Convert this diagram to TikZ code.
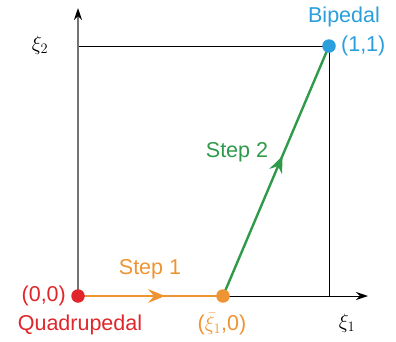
\documentclass[tikz,border=0pt]{standalone}
\usepackage{amsmath}
\usepackage{fontspec}
\setmainfont{Liberation Sans}
\usetikzlibrary{arrows.meta,positioning,calc,decorations.markings}
\definecolor{quadred}{HTML}{E0262B}
\definecolor{steporange}{HTML}{EF9432}
\definecolor{stepgreen}{HTML}{2F9A4A}
\definecolor{bipblue}{HTML}{2A9FDB}
\tikzset{
  % akser og ramme
  ax/.style={draw=black!55,line width=1.8pt},
  axtip/.style={-{Stealth[length=12pt,width=8pt,color=black]}},
  frame/.style={draw=black,line width=1pt},
  % tilstande
  pt/.style={circle,inner sep=0pt,minimum size=13.5pt},
  lbl/.style={font=\fontsize{21.5}{24}\selectfont,inner sep=1pt},
  axl/.style={font=\fontsize{22}{24}\selectfont,inner sep=1pt},
  % trinn
  steppath/.style={line width=2.4pt,postaction={decorate},
    decoration={markings,mark=at position #1 with
      {\arrow{Stealth[length=17pt,width=14pt,inset=6pt,line width=0pt]}}}},
}

\begin{document}
\begin{tikzpicture}[x=1pt,y=1pt]
  \useasboundingbox (0,0) rectangle (396,341);
  \coordinate (xend) at (368,45);
  \coordinate (yend) at (78,333);
  \coordinate (o) at (78,45);
  \coordinate (s) at (223,45);
  \coordinate (p) at (329,295);
  \draw[frame] (78,295) -- (p) -- (329,45);
  \draw[frame,axtip] (s) -- (xend);
  \draw[ax,axtip] (o) -- (yend);
  \node[axl] (xi2) at (40,296) {$\xi_2$};
  \node[axl] (xi1) at (347,18) {$\xi_1$};
  \draw[steppath=0.6,steporange] (o) -- (s);
  \draw[steppath=0.56,stepgreen] (s) -- (p);
  \node[pt,fill=quadred] (odot) at (o) {};
  \node[pt,fill=steporange] (sdot) at (s) {};
  \node[pt,fill=bipblue] (pdot) at (p) {};
  \node[lbl,text=quadred,left=4pt of odot] (ol) {(0,0)};
  \node[lbl,text=quadred] (quad) at (80,16) {Quadrupedal};
  \node[lbl,text=steporange] (st1) at (150,72) {Step 1};
  \node[lbl,text=steporange] (sl) at (222,17) {($\bar{\xi}_1$,0)};
  \node[lbl,text=stepgreen] (st2) at (237,189) {Step 2};
  \node[lbl,text=bipblue] (bip) at (344,324) {Bipedal};
  \node[lbl,text=bipblue,right=4pt of pdot] (pl) {(1,1)};
\end{tikzpicture}
\end{document}
